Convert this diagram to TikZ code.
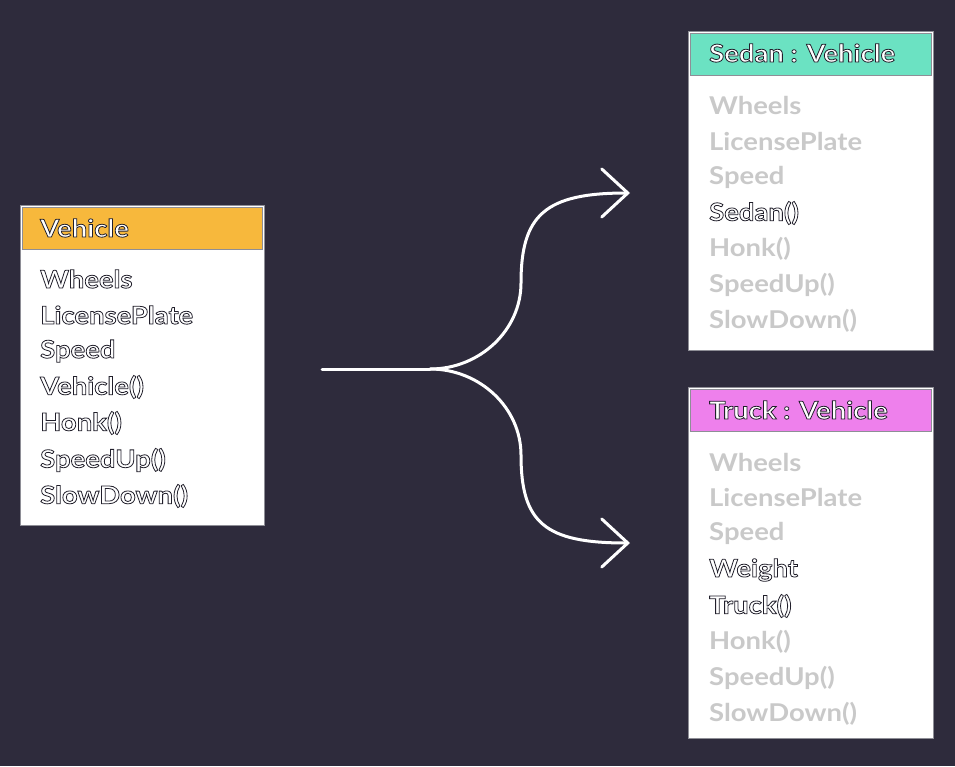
\documentclass[tikz,border=0pt]{standalone}
\usepackage{fontspec}
\setmainfont{Lato}[BoldFont={* Bold}, FakeStretch=1.12]
\usetikzlibrary{arrows.meta}
\definecolor{bgdark}{HTML}{2E2B3C}
\definecolor{vorange}{HTML}{F7B83C}
\definecolor{steal}{HTML}{6BE2C2}
\definecolor{tpink}{HTML}{EE80EC}
\definecolor{boxline}{HTML}{8E8E96}
\definecolor{inh}{HTML}{C9C9C9}
\newcommand\olt[1]{\special{pdf:literal direct 2 Tr 0.8 w 0.13 0.12 0.17 RG 1 1 1 rg}#1\special{pdf:literal direct 0 Tr}}
\tikzset{
  boxshape/.style={draw=boxline, fill=white, line width=1pt, inner sep=0pt},
  headshape/.style={draw=boxline, line width=0.8pt, inner sep=0pt},
  headtext/.style={anchor=west, inner sep=0pt, font=\bfseries\fontsize{24.5}{24.5}\selectfont},
  own/.style={anchor=west, inner sep=0pt, font=\bfseries\fontsize{24.5}{24.5}\selectfont},
  inherited/.style={anchor=west, inner sep=0pt, text=inh, font=\bfseries\fontsize{24.5}{24.5}\selectfont},
  flow/.style={draw=white, line width=3pt, line cap=round},
  chevron/.style={-{Straight Barb[length=26pt,width=48pt,line cap=round]}}
}
\begin{document}
\begin{tikzpicture}[x=1pt,y=-1pt]
\fill[bgdark] (0,0) rectangle (955,766);
\useasboundingbox (0,0) rectangle (955,766);

% Vehicle
\node[boxshape, minimum width=244pt, minimum height=320pt] (vbox) at (142,365) {};
\node[headshape, fill=vorange, minimum width=240pt, minimum height=42pt] (vhead) at (142,228) {};
\node[headtext] (vtitle) at (40,228) {\olt{Vehicle}};
\node[own] (v1) at (40,279) {\olt{Wheels}};
\node[own] (v2) at (40,315) {\olt{LicensePlate}};
\node[own] (v3) at (40,351) {\olt{Speed}};
\node[own] (v4) at (40,387) {\olt{Vehicle()}};
\node[own] (v5) at (40,423) {\olt{Honk()}};
\node[own] (v6) at (40,460) {\olt{SpeedUp()}};
\node[own] (v7) at (40,496) {\olt{SlowDown()}};

% Sedan
\node[boxshape, minimum width=245pt, minimum height=319pt] (sbox) at (810.5,190.5) {};
\node[headshape, fill=steal, minimum width=241pt, minimum height=42pt] (shead) at (810.5,54) {};
\node[headtext] (stitle) at (709,53) {\olt{Sedan : Vehicle}};
\node[inherited] (s1) at (709,105) {Wheels};
\node[inherited] (s2) at (709,141) {LicensePlate};
\node[inherited] (s3) at (709,177) {Speed};
\node[own] (s4) at (709,213) {\olt{Sedan()}};
\node[inherited] (s5) at (709,249) {Honk()};
\node[inherited] (s6) at (709,285) {SpeedUp()};
\node[inherited] (s7) at (709,321) {SlowDown()};

% Truck
\node[boxshape, minimum width=245pt, minimum height=351pt] (tbox) at (810.5,562.5) {};
\node[headshape, fill=tpink, minimum width=241pt, minimum height=42pt] (thead) at (810.5,410) {};
\node[headtext] (ttitle) at (709,410) {\olt{Truck : Vehicle}};
\node[inherited] (t1) at (709,462) {Wheels};
\node[inherited] (t2) at (709,497) {LicensePlate};
\node[inherited] (t3) at (709,533) {Speed};
\node[own] (t4) at (709,570) {\olt{Weight}};
\node[own] (t5) at (709,606) {\olt{Truck()}};
\node[inherited] (t6) at (709,642) {Honk()};
\node[inherited] (t7) at (709,678) {SpeedUp()};
\node[inherited] (t8) at (709,714) {SlowDown()};

% connectors
\coordinate (src) at (322,369);
\coordinate (split) at (430,369);
\coordinate (upmid) at (521,283);
\coordinate (lowmid) at (521,455);
\coordinate (sedanin) at (630,193);
\coordinate (truckin) at (630,543);
\draw[flow] (src) -- (split);
\draw[flow, chevron] (split) .. controls (480,369) and (521,330) .. (upmid)
  .. controls (521,215) and (545,193) .. (sedanin);
\draw[flow, chevron] (split) .. controls (480,369) and (521,408) .. (lowmid)
  .. controls (521,523) and (545,543) .. (truckin);
\end{tikzpicture}
\end{document}
